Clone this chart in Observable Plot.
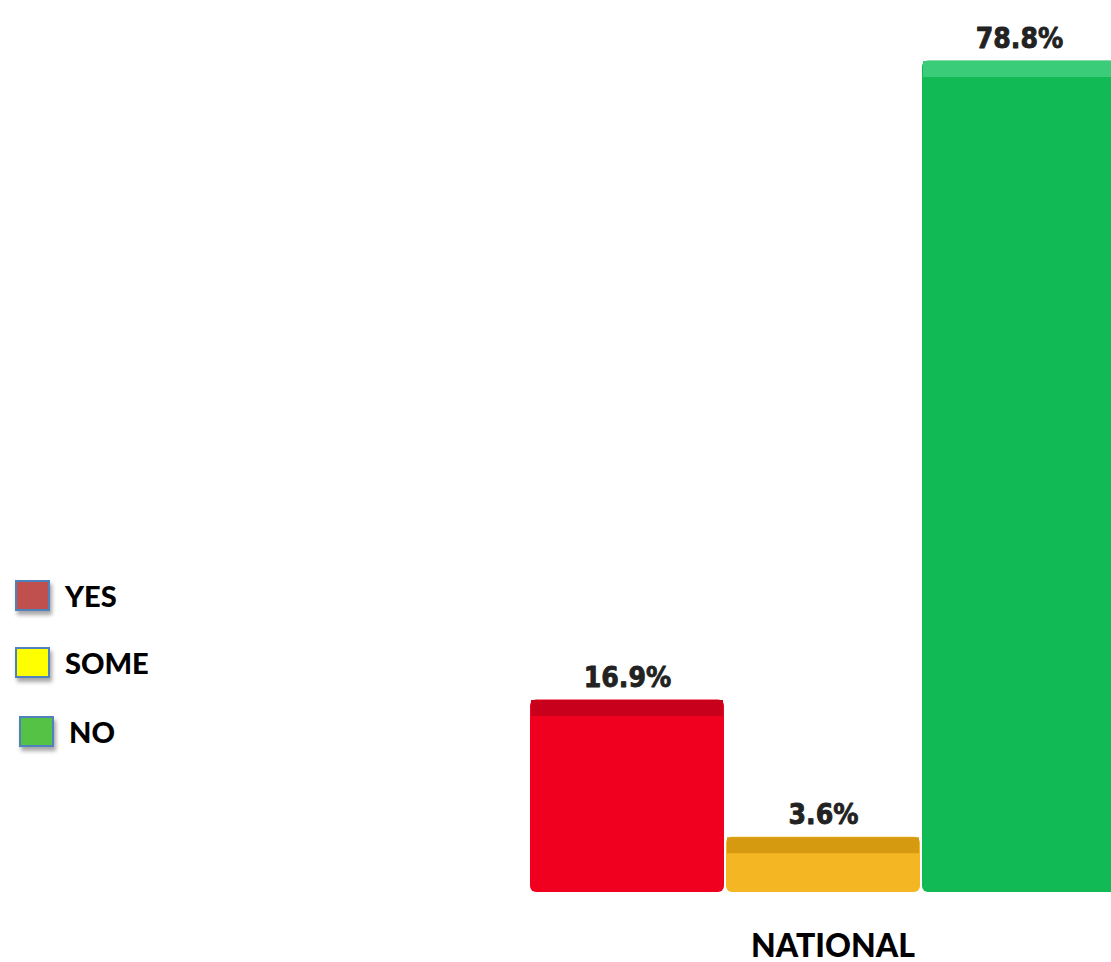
<!DOCTYPE html>
<html>
<head>
<meta charset="utf-8">
<script src="https://cdn.jsdelivr.net/npm/d3@7"></script>
<script src="https://cdn.jsdelivr.net/npm/@observablehq/plot@0.6"></script>
<style>
  html, body { margin: 0; padding: 0; background: #fff; overflow: hidden; }
  #wrap { position: relative; width: 1111px; height: 962px; }
  #chart { position: absolute; left: 0; top: 0; }
  .legend { position: absolute; left: 0; top: 0; font-family: Lato, "Open Sans", sans-serif; font-weight: 900; }
  .item { position: absolute; display: flex; align-items: center; }
  .sw { width: 31px; height: 27px; border: 2px solid #4F81BD; box-shadow: 2px 4px 4px rgba(0,0,0,0.35); }
  .lab { font-size: 29px; color: #000; margin-left: 15px; }
  #group { position: absolute; top: 925px; left: 0; font-family: Lato, "Open Sans", sans-serif; font-weight: 900; font-size: 32px; color: #000; white-space: nowrap; }
</style>
</head>
<body>
<div id="wrap">
  <div id="chart"></div>
  <div class="legend" id="legend"></div>
  <div id="group"></div>
</div>
<script>
const categories = ["YES", "SOME", "NO"];
const values = [16.9, 3.6, 78.8];
const valueLabels = ["16.9%", "3.6%", "78.8%"];
const groupName = "NATIONAL";
const frontColors = ["#F0001E", "#F4B623", "#12BA55"];
const topColors = ["#C8001C", "#D69A10", "#3ACC78"];
const legendColors = ["#C0504D", "#FFFF00", "#55C245"];

const data = categories.map((c, i) => ({
  cat: c, value: values[i], label: valueLabels[i], front: frontColors[i], top: topColors[i]
}));

const plot = Plot.plot({
  width: 1111,
  height: 962,
  margin: 0,
  style: { background: "#fff", overflow: "visible" },
  x: { domain: categories, range: [530, 1117], paddingInner: 0.01, paddingOuter: 0, axis: null },
  y: { domain: [0, 80], range: [892, 66], axis: null },
  marks: [
    Plot.barY(data, { x: "cat", y: "value", fill: "front", rx: 6, insetTop: -18 }),
    Plot.tickY(data, { x: "cat", y: "value", stroke: "top", strokeWidth: 16, dy: -10, insetLeft: 1, insetRight: 1 }),
    Plot.text(data, {
      x: "cat", y: "value", text: "label", dy: -31, lineAnchor: "bottom",
      fontFamily: "DejaVu Sans Condensed", fontWeight: "bold", fontSize: 28,
      fill: "#222", stroke: "#222", strokeWidth: 0.8
    })
  ]
});
document.getElementById("chart").appendChild(plot);

// Legend
const legendTops = [578, 645, 714];
const legendLefts = [15, 15, 19];
const legend = document.getElementById("legend");
categories.forEach((c, i) => {
  const it = document.createElement("div");
  it.className = "item";
  it.style.top = legendTops[i] + "px";
  it.style.left = legendLefts[i] + "px";
  const sw = document.createElement("div");
  sw.className = "sw";
  sw.style.background = legendColors[i];
  const lab = document.createElement("div");
  lab.className = "lab";
  lab.textContent = c;
  it.appendChild(sw);
  it.appendChild(lab);
  legend.appendChild(it);
});

// Group label centered under the bar group
const g = document.getElementById("group");
const xs = plot.scale("x");
const center = (xs.apply(categories[0]) + xs.apply(categories[categories.length - 1]) + xs.bandwidth) / 2;
g.textContent = groupName;
g.style.left = (center + 10) + "px";
g.style.transform = "translateX(-50%)";
</script>
</body>
</html>
